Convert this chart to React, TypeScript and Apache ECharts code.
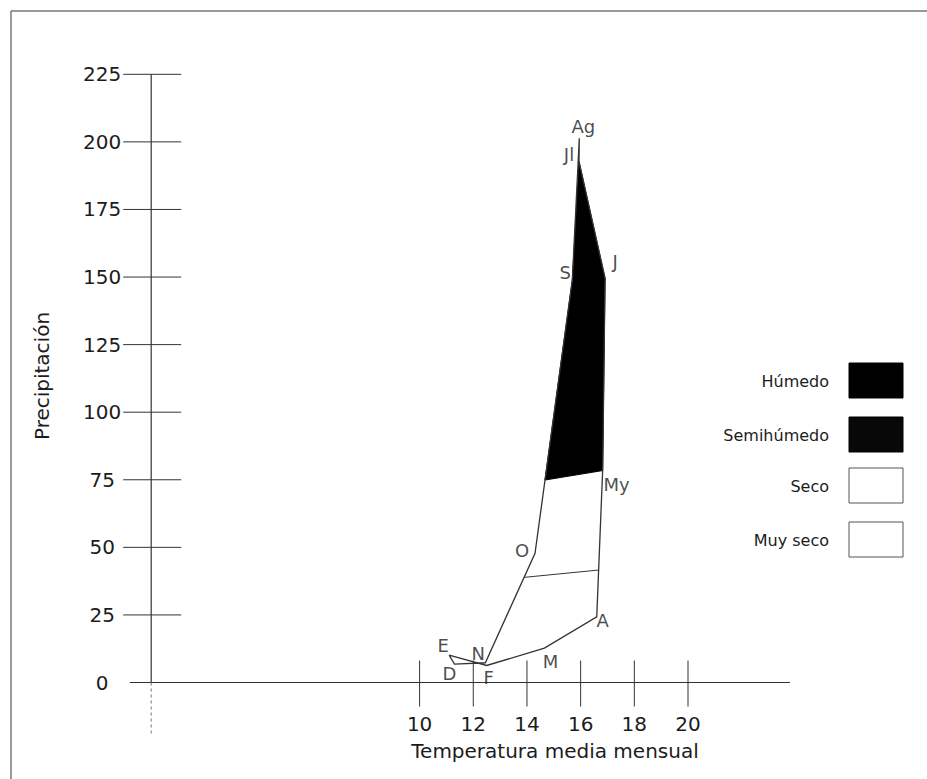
import { useEffect, useRef } from "react";
import * as echarts from "echarts";

// ---- data ----
const months = ["E", "F", "M", "A", "My", "J", "Jl", "Ag", "S", "O", "N", "D"];
const temperature = [11.1, 12.5, 14.65, 16.6, 16.82, 16.91, 15.94, 15.95, 15.69, 14.3, 12.45, 11.3];
const precipitation = [10.1, 6.3, 12.7, 24.3, 78.4, 149.5, 192.7, 201.3, 148.9, 47.8, 7.3, 6.8];
const xTickValues = [10, 12, 14, 16, 18, 20];
const yTickValues = [25, 50, 75, 100, 125, 150, 175, 200, 225];
const humidLimitT = [14.67, 16.82];
const humidLimitP = [74.9, 78.4];
const dryLimitT = [13.9, 16.67];
const dryLimitP = [38.9, 41.6];
const legendNames = ["Húmedo", "Semihúmedo", "Seco", "Muy seco"];
const xAxisTitle = "Temperatura media mensual";
const yAxisTitle = "Precipitación";

// ---- styling ----
const FONT = "DejaVu Sans";
const INK = "#1c1c1c";
const LINE = "#333333";
const X_LINE_MIN = -0.8;
const X_LINE_MAX = 23.8;
const Y_LINE_MIN = -20;
const Y_LINE_MAX = 225;
const labelOffsets: Record<string, [number, number]> = {
  E: [-6, -10],
  F: [2, 12],
  M: [6, 13],
  A: [6, 4],
  My: [14, 14],
  J: [10, -17],
  Jl: [-10, -7],
  Ag: [4, -12],
  S: [-7, -8],
  O: [-13, -3],
  N: [-7, -9],
  D: [-5, 9],
};
const legendFills = ["#000000", "#080808", "#ffffff", "#ffffff"];

export default function App() {
  const ref = useRef<HTMLDivElement>(null);

  useEffect(() => {
    document.body.style.margin = "0";
    const chart = echarts.init(ref.current!, null, { renderer: "svg" });

    const axesSeries: any = {
      type: "custom",
      coordinateSystem: "cartesian2d",
      silent: true,
      clip: false,
      z: 1,
      data: [[0, 0]],
      renderItem: (_params: any, api: any) => {
        const o = api.coord([0, 0]);
        const children: any[] = [];
        const l = api.coord([X_LINE_MIN, 0]);
        const r = api.coord([X_LINE_MAX, 0]);
        const t = api.coord([0, Y_LINE_MAX]);
        const b = api.coord([0, Y_LINE_MIN]);
        children.push({
          type: "line",
          shape: { x1: l[0], y1: o[1], x2: r[0], y2: o[1] },
          style: { stroke: LINE, lineWidth: 1.2 },
        });
        children.push({
          type: "line",
          shape: { x1: o[0], y1: t[1], x2: o[0], y2: o[1] },
          style: { stroke: LINE, lineWidth: 1.2 },
        });
        children.push({
          type: "line",
          shape: { x1: o[0], y1: o[1], x2: o[0], y2: b[1] },
          style: { stroke: "#777", lineWidth: 1, lineDash: [3, 3] },
        });
        yTickValues.forEach((v) => {
          const p = api.coord([0, v]);
          children.push({
            type: "line",
            shape: { x1: p[0] - 28, y1: p[1], x2: p[0] + 30, y2: p[1] },
            style: { stroke: LINE, lineWidth: 1 },
          });
        });
        xTickValues.forEach((v) => {
          const p = api.coord([v, 0]);
          children.push({
            type: "line",
            shape: { x1: p[0], y1: p[1] - 22, x2: p[0], y2: p[1] + 24 },
            style: { stroke: LINE, lineWidth: 1 },
          });
        });
        return { type: "group", children };
      },
    };

    const climoSeries: any = {
      type: "custom",
      coordinateSystem: "cartesian2d",
      silent: true,
      clip: false,
      z: 2,
      data: [[0, 0]],
      renderItem: (_params: any, api: any) => {
        const pts = temperature.map((tv, i) => api.coord([tv, precipitation[i]]));
        const idx = (m: string) => months.indexOf(m);
        const humidPoly = [
          api.coord([humidLimitT[0], humidLimitP[0]]),
          api.coord([humidLimitT[1], humidLimitP[1]]),
          pts[idx("J")],
          pts[idx("Jl")],
          pts[idx("S")],
        ];
        const d0 = api.coord([dryLimitT[0], dryLimitP[0]]);
        const d1 = api.coord([dryLimitT[1], dryLimitP[1]]);
        return {
          type: "group",
          children: [
            {
              type: "polygon",
              shape: { points: humidPoly },
              style: { fill: "#000", stroke: "#000", lineWidth: 1 },
            },
            {
              type: "polyline",
              shape: { points: [...pts, pts[0]] },
              style: { fill: null, stroke: LINE, lineWidth: 1.3 },
            },
            {
              type: "line",
              shape: { x1: d0[0], y1: d0[1], x2: d1[0], y2: d1[1] },
              style: { stroke: LINE, lineWidth: 1 },
            },
          ],
        };
      },
    };

    const labelSeries: any = {
      type: "scatter",
      z: 3,
      symbol: "circle",
      symbolSize: 1,
      clip: false,
      itemStyle: { color: "rgba(0,0,0,0)" },
      silent: true,
      data: months.map((m, i) => ({
        name: m,
        value: [temperature[i], precipitation[i]],
        label: { offset: labelOffsets[m] },
      })),
      label: {
        show: true,
        position: "inside",
        formatter: (p: any) => p.name,
        color: INK,
        textBorderWidth: 0,
        textBorderColor: "transparent",
        fontFamily: FONT,
        fontSize: 18,
      },
    };

    const legendGraphics: any[] = [];
    legendNames.forEach((name, i) => {
      const top = [363, 417, 468, 522][i];
      legendGraphics.push({
        type: "rect",
        shape: { x: 849, y: top, width: 54, height: 35 },
        style: {
          fill: legendFills[i],
          stroke: i < 2 ? "#000" : "#555",
          lineWidth: 1,
        },
      });
      legendGraphics.push({
        type: "text",
        x: 829,
        y: top + 18,
        style: {
          text: name,
          fill: INK,
          font: `16px "${FONT}"`,
          align: "right",
          verticalAlign: "middle",
        },
      });
    });

    chart.setOption({
      animation: false,
      backgroundColor: "#ffffff",
      grid: {
        left: 151.2,
        right: 131.64,
        top: 74.3,
        bottom: 96.5,
        containLabel: false,
        outerBoundsMode: "none",
      },
      xAxis: {
        type: "value",
        min: 0,
        max: 24,
        interval: 1,
        axisLine: { show: false, onZero: false },
        axisTick: { show: false },
        splitLine: { show: false },
        axisLabel: {
          margin: 31,
          color: INK,
          fontFamily: FONT,
          fontSize: 20,
          showMinLabel: true,
          showMaxLabel: true,
          formatter: (v: number) => (xTickValues.includes(v) ? String(v) : ""),
        },
      },
      yAxis: {
        type: "value",
        min: 0,
        max: 225,
        interval: 25,
        axisLine: { show: false, onZero: false },
        axisTick: { show: false },
        splitLine: { show: false },
        axisLabel: {
          margin: 49,
          align: "center",
          color: INK,
          fontFamily: FONT,
          fontSize: 20,
          showMinLabel: true,
          showMaxLabel: true,
        },
      },
      graphic: [
        {
          type: "line",
          shape: { x1: 11, y1: 11, x2: 927, y2: 11 },
          style: { stroke: "#777", lineWidth: 1.5 },
        },
        {
          type: "line",
          shape: { x1: 11, y1: 11, x2: 11, y2: 779 },
          style: { stroke: "#777", lineWidth: 1.5 },
        },
        {
          type: "text",
          x: 555,
          y: 751,
          style: {
            text: xAxisTitle,
            fill: INK,
            font: `20px "${FONT}"`,
            align: "center",
            verticalAlign: "middle",
          },
        },
        {
          type: "text",
          x: 42,
          y: 376,
          rotation: Math.PI / 2,
          style: {
            text: yAxisTitle,
            fill: INK,
            font: `20px "${FONT}"`,
            align: "center",
            verticalAlign: "middle",
          },
        },
        ...legendGraphics,
      ],
      series: [axesSeries, climoSeries, labelSeries],
    });

    return () => chart.dispose();
  }, []);

  return <div ref={ref} style={{ width: 927, height: 779 }} />;
}
